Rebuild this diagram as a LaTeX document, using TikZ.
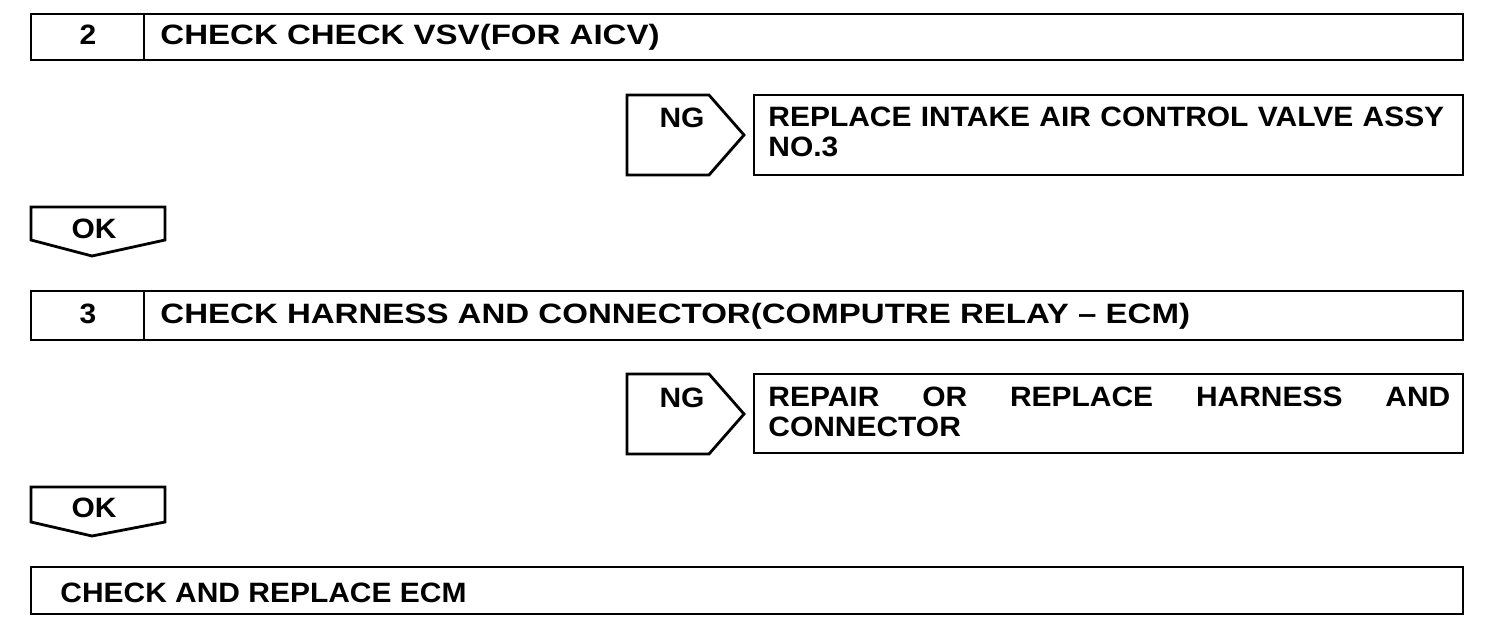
\documentclass[tikz,border=0pt]{standalone}
\usepackage{fontspec}
\setmainfont[FakeStretch=1.07]{Liberation Sans}
\newfontfamily\widefont[FakeStretch=1.18,Ligatures=TeX]{Liberation Sans}
\tikzstyle{txt} = [font=\bfseries\fontsize{14}{15}\selectfont, inner sep=0pt]
\tikzstyle{widetxt} = [font=\widefont\bfseries\fontsize{14}{15}\selectfont, inner sep=0pt]
\tikzstyle{frame} = [line width=1.4pt, line join=miter]

\begin{document}
\begin{tikzpicture}[x=0.5pt,y=-0.5pt]
\useasboundingbox (0,0) rectangle (1504,638);
% step 2
\draw[frame] (31,14) rectangle (1463,60);
\draw[frame] (144,14) -- (144,60);
\node[txt, anchor=base] (num2) at (88,44) {2};
\node[widetxt, anchor=base west] (chk2) at (160,44) {CHECK CHECK VSV(FOR AICV)};
% NG 1
\draw[frame] (627,95) -- (709,95) -- (744,135) -- (709,175) -- (627,175) -- cycle;
\node[txt, anchor=base] (ng1) at (682,127) {NG};
\draw[frame] (754,95) rectangle (1463,175);
\node[txt, anchor=north west, text width=347pt, align=left] (rep1) at (768,107) {REPLACE INTAKE AIR CONTROL VALVE ASSY\\NO.3};
% OK 1
\draw[frame] (31,207) -- (165,207) -- (165,240) -- (92,256) -- (31,240) -- cycle;
\node[txt, anchor=base] (ok1) at (94,238) {OK};
% step 3
\draw[frame] (31,291) rectangle (1463,340);
\draw[frame] (144,291) -- (144,340);
\node[txt, anchor=base] (num3) at (88,323) {3};
\node[widetxt, anchor=base west] (chk3) at (160,323) {CHECK HARNESS AND CONNECTOR(COMPUTRE RELAY – ECM)};
% NG 2
\draw[frame] (627,374) -- (709,374) -- (744,414) -- (709,454) -- (627,454) -- cycle;
\node[txt, anchor=base] (ng2) at (682,407) {NG};
\draw[frame] (754,374) rectangle (1463,453);
\node[txt, anchor=north west, text width=341pt, align=left] (rep2) at (768,387) {REPAIR\hfill OR\hfill REPLACE\hfill HARNESS\hfill AND\\CONNECTOR};
% OK 2
\draw[frame] (31,487) -- (165,487) -- (165,522) -- (92,536) -- (31,522) -- cycle;
\node[txt, anchor=base] (ok2) at (94,517) {OK};
% last step
\draw[frame] (31,567) rectangle (1463,614);
\node[txt, anchor=base west] (ecm) at (60,602) {CHECK AND REPLACE ECM};
\end{tikzpicture}
\end{document}
